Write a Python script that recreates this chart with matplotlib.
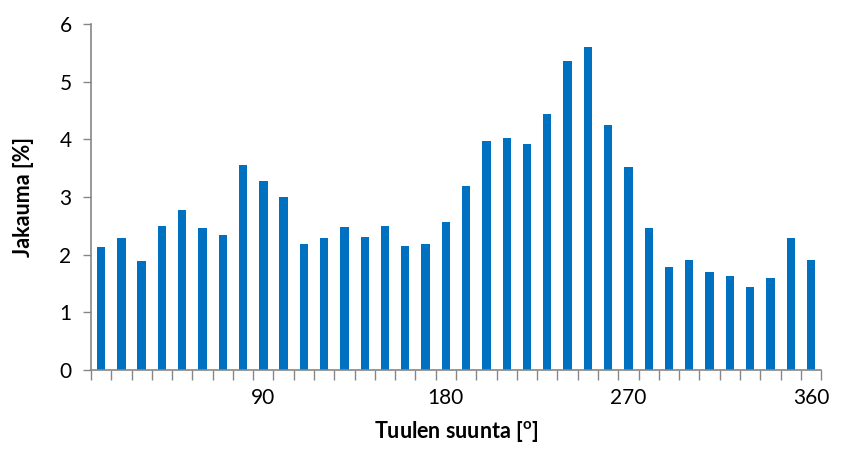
import numpy as np
import matplotlib
matplotlib.use('Agg')
import matplotlib.pyplot as plt

plt.rcParams['font.family'] = ['Lato', 'DejaVu Sans']

directions = list(range(10, 361, 10))
jakauma = [2.13, 2.29, 1.89, 2.50, 2.77, 2.46, 2.34, 3.55, 3.28, 3.00,
           2.18, 2.29, 2.48, 2.31, 2.50, 2.15, 2.18, 2.57, 3.19, 3.97,
           4.02, 3.92, 4.44, 5.36, 5.60, 4.25, 3.52, 2.46, 1.79, 1.91,
           1.70, 1.63, 1.44, 1.60, 2.29, 1.91]
shown_labels = [90, 180, 270, 360]

fig = plt.figure(figsize=(8.5, 4.5), dpi=100)
ax = fig.add_axes([0.107, 0.178, 0.859, 0.769])

x = np.arange(len(directions))
ax.bar(x, jakauma, width=0.41, color='#0070C0')

ax.set_xlim(-0.5, len(directions) - 0.5)
ax.set_ylim(0, 6)
ax.set_yticks(range(0, 7))

# category ticks sit between bars, labels only on every 90 degrees
ax.set_xticks(np.arange(len(directions) + 1) - 0.5)
ax.set_xticklabels([])
lab_pos = [directions.index(d) for d in shown_labels]
ax.set_xticks(lab_pos, minor=True)
ax.set_xticklabels([str(d) for d in shown_labels], minor=True)
ax.tick_params(axis='x', which='minor', length=0, pad=13, labelsize=15)
ax.tick_params(axis='x', which='major', length=7, color='#868686', width=1)
ax.tick_params(axis='y', length=6, color='#868686', width=1, labelsize=15, pad=8)

for s in ['top', 'right']:
    ax.spines[s].set_visible(False)
for s in ['left', 'bottom']:
    ax.spines[s].set_color('#868686')
    ax.spines[s].set_linewidth(1.2)

ax.set_xlabel(r'Tuulen suunta [$\mathregular{^o}$]', fontsize=15.5, fontweight='bold', labelpad=8)
ax.set_ylabel('Jakauma [%]', fontsize=15.5, fontweight='bold', labelpad=18)

fig.savefig('out.png', dpi=100)
